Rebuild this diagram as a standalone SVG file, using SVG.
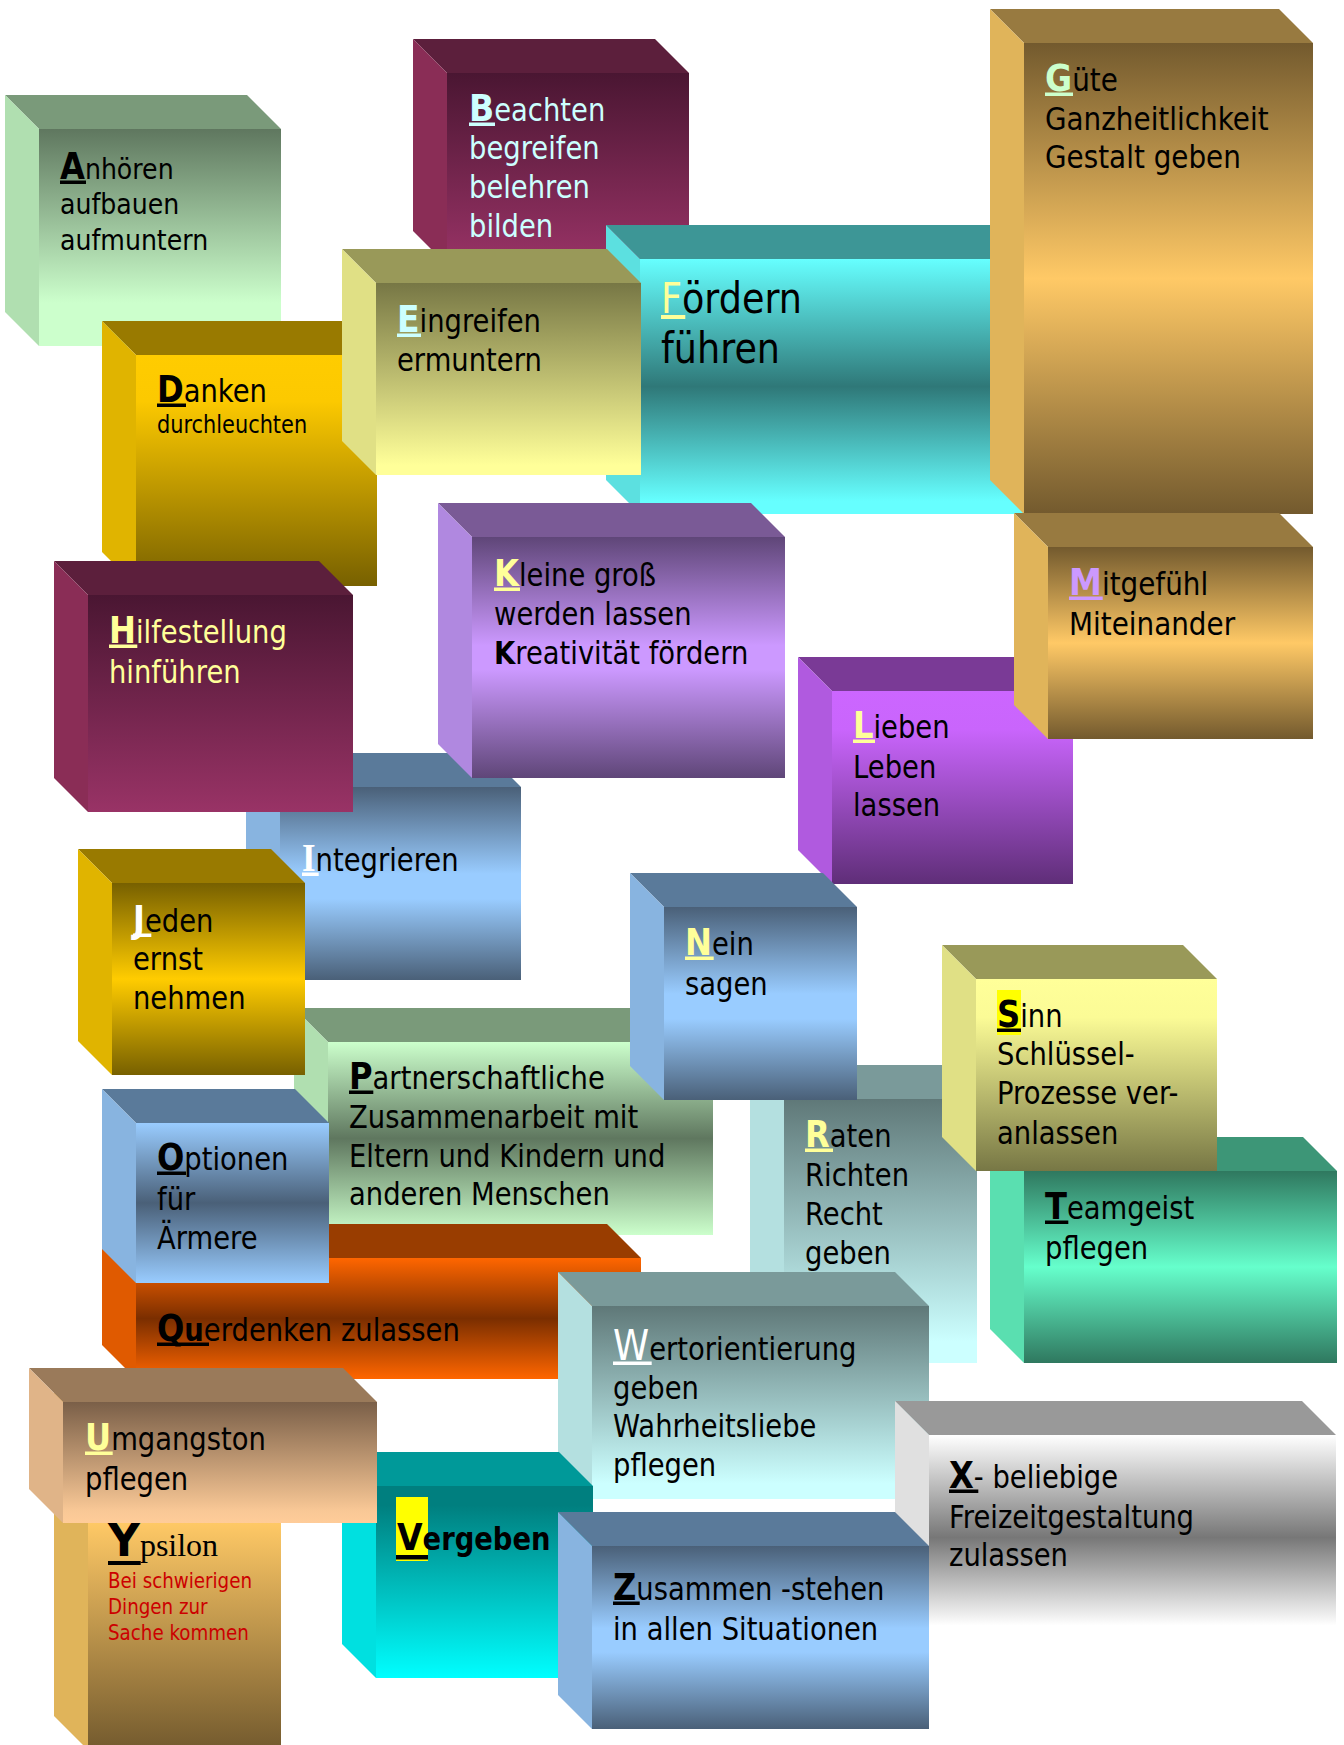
<svg xmlns="http://www.w3.org/2000/svg" width="1344" height="1745" viewBox="0 0 1344 1745">
<defs>
<linearGradient id="gA" x1="0" y1="0" x2="0" y2="1"><stop offset="0" stop-color="#5f775f"/><stop offset="0.8" stop-color="#ccffcc"/><stop offset="1" stop-color="#ccffcc"/></linearGradient>
<linearGradient id="gB" x1="0" y1="0" x2="0" y2="1"><stop offset="0" stop-color="#4a1632"/><stop offset="1" stop-color="#993366"/></linearGradient>
<linearGradient id="gGold" x1="0" y1="0" x2="0" y2="1"><stop offset="0" stop-color="#735a2e"/><stop offset="0.5" stop-color="#ffc966"/><stop offset="1" stop-color="#735a2e"/></linearGradient>
<linearGradient id="gY" x1="0" y1="0" x2="0" y2="1"><stop offset="0" stop-color="#735a2e"/><stop offset="0.31" stop-color="#ffc966"/><stop offset="1" stop-color="#735a2e"/></linearGradient>
<linearGradient id="gF" x1="0" y1="0" x2="0" y2="1"><stop offset="0" stop-color="#66ffff"/><stop offset="0.5" stop-color="#2f7878"/><stop offset="0.95" stop-color="#66ffff"/><stop offset="1" stop-color="#66ffff"/></linearGradient>
<linearGradient id="gE" x1="0" y1="0" x2="0" y2="1"><stop offset="0" stop-color="#777745"/><stop offset="0.95" stop-color="#ffff99"/><stop offset="1" stop-color="#ffff99"/></linearGradient>
<linearGradient id="gD" x1="0" y1="0" x2="0" y2="1"><stop offset="0" stop-color="#ffcc00"/><stop offset="0.2" stop-color="#fcc900"/><stop offset="1" stop-color="#776000"/></linearGradient>
<linearGradient id="gJ" x1="0" y1="0" x2="0" y2="1"><stop offset="0" stop-color="#776000"/><stop offset="0.5" stop-color="#ffcc00"/><stop offset="1" stop-color="#776000"/></linearGradient>
<linearGradient id="gK" x1="0" y1="0" x2="0" y2="1"><stop offset="0" stop-color="#5f4678"/><stop offset="0.45" stop-color="#cc99ff"/><stop offset="0.55" stop-color="#cc99ff"/><stop offset="1" stop-color="#5f4678"/></linearGradient>
<linearGradient id="gL" x1="0" y1="0" x2="0" y2="1"><stop offset="0" stop-color="#cc66ff"/><stop offset="0.2" stop-color="#c965fc"/><stop offset="1" stop-color="#5f2e78"/></linearGradient>
<linearGradient id="gBlue" x1="0" y1="0" x2="0" y2="1"><stop offset="0" stop-color="#4a6078"/><stop offset="0.45" stop-color="#99ccff"/><stop offset="0.58" stop-color="#99ccff"/><stop offset="1" stop-color="#4a6078"/></linearGradient>
<linearGradient id="gO" x1="0" y1="0" x2="0" y2="1"><stop offset="0" stop-color="#99ccff"/><stop offset="0.5" stop-color="#4a6078"/><stop offset="1" stop-color="#99ccff"/></linearGradient>
<linearGradient id="gP" x1="0" y1="0" x2="0" y2="1"><stop offset="0" stop-color="#ccffcc"/><stop offset="0.5" stop-color="#5f775f"/><stop offset="1" stop-color="#ccffcc"/></linearGradient>
<linearGradient id="gQ" x1="0" y1="0" x2="0" y2="1"><stop offset="0" stop-color="#ff6600"/><stop offset="0.5" stop-color="#7a2e00"/><stop offset="1" stop-color="#ff6600"/></linearGradient>
<linearGradient id="gR" x1="0" y1="0" x2="0" y2="1"><stop offset="0" stop-color="#5f7878"/><stop offset="0.92" stop-color="#ccffff"/><stop offset="1" stop-color="#ccffff"/></linearGradient>
<linearGradient id="gS" x1="0" y1="0" x2="0" y2="1"><stop offset="0" stop-color="#ffff99"/><stop offset="0.2" stop-color="#fbfb96"/><stop offset="1" stop-color="#777745"/></linearGradient>
<linearGradient id="gT" x1="0" y1="0" x2="0" y2="1"><stop offset="0" stop-color="#2f785f"/><stop offset="0.5" stop-color="#66ffcc"/><stop offset="1" stop-color="#2f785f"/></linearGradient>
<linearGradient id="gU" x1="0" y1="0" x2="0" y2="1"><stop offset="0" stop-color="#7a5f48"/><stop offset="0.9" stop-color="#f9c896"/><stop offset="1" stop-color="#ffcc99"/></linearGradient>
<linearGradient id="gV" x1="0" y1="0" x2="0" y2="1"><stop offset="0" stop-color="#007f7f"/><stop offset="0.1" stop-color="#007f7f"/><stop offset="1" stop-color="#00ffff"/></linearGradient>
<linearGradient id="gX" x1="0" y1="0" x2="0" y2="1"><stop offset="0" stop-color="#ffffff"/><stop offset="0.5" stop-color="#777777"/><stop offset="0.93" stop-color="#ffffff"/><stop offset="1" stop-color="#ffffff"/></linearGradient>
</defs>
<style>
text{font-family:"DejaVu Sans",Verdana,sans-serif;}
.b{font-weight:bold;}
.serif{font-family:"Liberation Serif","Times New Roman",serif;}
</style>
<rect width="1344" height="1745" fill="#ffffff"/>

<g id="n-anhoeren">
<polygon fill="#7a9a7a" points="5,95 247,95 281,129 39,129"/>
<polygon fill="#b0dfb0" points="5,95 39,129 39,346 5,312"/>
<rect x="39" y="129" width="242" height="217" fill="url(#gA)"/>
<rect x="60" y="180.5" width="26" height="3.5" fill="#000"/>
<g transform="translate(60 0) scale(0.87 1)" font-size="29" fill="#000">
<text y="179"><tspan class="b" font-size="37">A</tspan>nhören</text>
<text y="214">aufbauen</text>
<text y="250">aufmuntern</text>
</g>
</g>

<g id="n-beachten">
<polygon fill="#5c1f3c" points="413,39 655,39 689,73 447,73"/>
<polygon fill="#8a2d56" points="413,39 447,73 447,265 413,231"/>
<rect x="447" y="73" width="242" height="192" fill="url(#gB)"/>
<rect x="469" y="122.5" width="26" height="3.5" fill="#ccffff"/>
<g transform="translate(469 0) scale(0.87 1)" font-size="31.5" fill="#ccffff">
<text y="121"><tspan class="b" font-size="38">B</tspan>eachten</text>
<text y="159">begreifen</text>
<text y="198">belehren</text>
<text y="237">bilden</text>
</g>
</g>

<g id="n-foerdern">
<polygon fill="#3d9696" points="606,225 1066,225 1100,259 640,259"/>
<polygon fill="#5ce0e0" points="606,225 640,259 640,514 606,480"/>
<rect x="640" y="259" width="460" height="255" fill="url(#gF)"/>
<rect x="661" y="315" width="24.3" height="4" fill="#ffff99"/>
<g transform="translate(661 0) scale(0.87 1)" font-size="42" fill="#000">
<text y="313"><tspan fill="#ffff99">F</tspan>ördern</text>
<text y="363">führen</text>
</g>
</g>

<g id="n-guete">
<polygon fill="#987a40" points="990,9 1279,9 1313,43 1024,43"/>
<polygon fill="#e0b45a" points="990,9 1024,43 1024,514 990,480"/>
<rect x="1024" y="43" width="289" height="471" fill="url(#gGold)"/>
<rect x="1045" y="92.5" width="28" height="3.5" fill="#ccffcc"/>
<g transform="translate(1045 0) scale(0.87 1)" font-size="32" fill="#000">
<text y="91"><tspan class="b" font-size="38" fill="#ccffcc">G</tspan>üte</text>
<text y="130">Ganzheitlichkeit</text>
<text y="168">Gestalt geben</text>
</g>
</g>

<g id="n-danken">
<polygon fill="#997a00" points="102,321 343,321 377,355 136,355"/>
<polygon fill="#e0b400" points="102,321 136,355 136,586 102,552"/>
<rect x="136" y="355" width="241" height="231" fill="url(#gD)"/>
<rect x="157" y="403.5" width="29" height="3.5" fill="#000"/>
<g transform="translate(157 0) scale(0.87 1)" font-size="31.5" fill="#000">
<text y="402"><tspan class="b" font-size="37">D</tspan>anken</text>
<text y="433" font-size="24">durchleuchten</text>
</g>
</g>

<g id="n-eingreifen">
<polygon fill="#999959" points="342,249 607,249 641,283 376,283"/>
<polygon fill="#e0e085" points="342,249 376,283 376,475 342,441"/>
<rect x="376" y="283" width="265" height="192" fill="url(#gE)"/>
<rect x="397" y="333.5" width="24" height="3.5" fill="#ccffff"/>
<g transform="translate(397 0) scale(0.87 1)" font-size="31.5" fill="#000">
<text y="332"><tspan class="b" font-size="38" fill="#ccffff">E</tspan>ingreifen</text>
<text y="371">ermuntern</text>
</g>
</g>

<g id="n-integrieren">
<polygon fill="#5a7a9a" points="246,753 487,753 521,787 280,787"/>
<polygon fill="#88b4e0" points="246,753 280,787 280,980 246,946"/>
<rect x="280" y="787" width="241" height="193" fill="url(#gBlue)"/>
<rect x="302" y="872.5" width="16.7" height="3.5" fill="#ffffff"/>
<g transform="translate(302 0) scale(0.87 1)" font-size="31.5" fill="#000">
<text y="871"><tspan class="serif b" font-size="40" fill="#ffffff">I</tspan>ntegrieren</text>
</g>
</g>

<g id="n-kleine">
<polygon fill="#7a5a96" points="438,503 751,503 785,537 472,537"/>
<polygon fill="#b088e0" points="438,503 472,537 472,778 438,744"/>
<rect x="472" y="537" width="313" height="241" fill="url(#gK)"/>
<rect x="494" y="587.5" width="26" height="3.5" fill="#ffff99"/>
<g transform="translate(494 0) scale(0.87 1)" font-size="31.5" fill="#000">
<text y="586"><tspan class="b" font-size="37" fill="#ffff99">K</tspan>leine groß</text>
<text y="625">werden lassen</text>
<text y="664"><tspan class="b">K</tspan>reativität fördern</text>
</g>
</g>

<g id="n-hilfestellung">
<polygon fill="#5c1f3c" points="54,561 319,561 353,595 88,595"/>
<polygon fill="#8a2d56" points="54,561 88,595 88,812 54,778"/>
<rect x="88" y="595" width="265" height="217" fill="url(#gB)"/>
<rect x="109" y="644.5" width="28.3" height="3.5" fill="#ffff99"/>
<g transform="translate(109 0) scale(0.87 1)" font-size="31.5" fill="#ffff99">
<text y="643"><tspan class="b" font-size="37">H</tspan>ilfestellung</text>
<text y="683">hinführen</text>
</g>
</g>

<g id="n-lieben">
<polygon fill="#7a3a96" points="798,657 1039,657 1073,691 832,691"/>
<polygon fill="#b05adf" points="798,657 832,691 832,884 798,850"/>
<rect x="832" y="691" width="241" height="193" fill="url(#gL)"/>
<rect x="853" y="739.5" width="22" height="3.5" fill="#ffff99"/>
<g transform="translate(853 0) scale(0.87 1)" font-size="31.5" fill="#000">
<text y="738"><tspan class="b" font-size="37" fill="#ffff99">L</tspan>ieben</text>
<text y="778">Leben</text>
<text y="816">lassen</text>
</g>
</g>

<g id="n-mitgefuehl">
<polygon fill="#987a40" points="1014,513 1279,513 1313,547 1048,547"/>
<polygon fill="#e0b45a" points="1014,513 1048,547 1048,739 1014,705"/>
<rect x="1048" y="547" width="265" height="192" fill="url(#gGold)"/>
<rect x="1069" y="596.5" width="33.7" height="3.5" fill="#cc99ff"/>
<g transform="translate(1069 0) scale(0.87 1)" font-size="32" fill="#000">
<text y="595"><tspan class="b" font-size="38" fill="#cc99ff">M</tspan>itgefühl</text>
<text y="635">Miteinander</text>
</g>
</g>

<g id="n-partnerschaftliche">
<polygon fill="#7a9a7a" points="294,1008 679,1008 713,1042 328,1042"/>
<polygon fill="#b0dfb0" points="294,1008 328,1042 328,1235 294,1201"/>
<rect x="328" y="1042" width="385" height="193" fill="url(#gP)"/>
<rect x="349" y="1090.5" width="24.3" height="3.5" fill="#000"/>
<g transform="translate(349 0) scale(0.87 1)" font-size="31.5" fill="#000">
<text y="1089"><tspan class="b" font-size="37">P</tspan>artnerschaftliche</text>
<text y="1128">Zusammenarbeit mit</text>
<text y="1167">Eltern und Kindern und</text>
<text y="1205">anderen Menschen</text>
</g>
</g>

<g id="n-jeden">
<polygon fill="#997a00" points="78,849 271,849 305,883 112,883"/>
<polygon fill="#e0b400" points="78,849 112,883 112,1075 78,1041"/>
<rect x="112" y="883" width="193" height="192" fill="url(#gJ)"/>
<rect x="133" y="933.5" width="18.3" height="3.5" fill="#ffffff"/>
<g transform="translate(133 0) scale(0.87 1)" font-size="31.5" fill="#000">
<text y="932"><tspan class="b" font-size="37" fill="#ffffff">J</tspan>eden</text>
<text y="970">ernst</text>
<text y="1009">nehmen</text>
</g>
</g>

<g id="n-raten">
<polygon fill="#7a9a9a" points="750,1065 943,1065 977,1099 784,1099"/>
<polygon fill="#b4e0e0" points="750,1065 784,1099 784,1363 750,1329"/>
<rect x="784" y="1099" width="193" height="264" fill="url(#gR)"/>
<rect x="805" y="1148.5" width="28" height="3.5" fill="#ffff99"/>
<g transform="translate(805 0) scale(0.87 1)" font-size="31.5" fill="#000">
<text y="1147"><tspan class="b" font-size="37" fill="#ffff99">R</tspan>aten</text>
<text y="1186">Richten</text>
<text y="1225">Recht</text>
<text y="1264">geben</text>
</g>
</g>

<g id="n-nein">
<polygon fill="#5a7a9a" points="630,873 823,873 857,907 664,907"/>
<polygon fill="#88b4e0" points="630,873 664,907 664,1100 630,1066"/>
<rect x="664" y="907" width="193" height="193" fill="url(#gBlue)"/>
<rect x="685" y="956.5" width="28.7" height="3.5" fill="#ffff99"/>
<g transform="translate(685 0) scale(0.87 1)" font-size="31.5" fill="#000">
<text y="955"><tspan class="b" font-size="37" fill="#ffff99">N</tspan>ein</text>
<text y="995">sagen</text>
</g>
</g>

<g id="n-teamgeist">
<polygon fill="#3d9677" points="990,1137 1303,1137 1337,1171 1024,1171"/>
<polygon fill="#5adfb0" points="990,1137 1024,1171 1024,1363 990,1329"/>
<rect x="1024" y="1171" width="313" height="192" fill="url(#gT)"/>
<rect x="1045" y="1220.5" width="23.3" height="3.5" fill="#000"/>
<g transform="translate(1045 0) scale(0.87 1)" font-size="31.5" fill="#000">
<text y="1219"><tspan class="b" font-size="37">T</tspan>eamgeist</text>
<text y="1259">pflegen</text>
</g>
</g>

<g id="n-sinn">
<polygon fill="#999959" points="942,945 1183,945 1217,979 976,979"/>
<polygon fill="#e0e085" points="942,945 976,979 976,1171 942,1137"/>
<rect x="976" y="979" width="241" height="192" fill="url(#gS)"/>
<rect x="997" y="990" width="24" height="45" fill="#ffff00"/>
<rect x="997" y="1028.5" width="24" height="3.5" fill="#000"/>
<g transform="translate(997 0) scale(0.87 1)" font-size="31.5" fill="#000">
<text y="1027"><tspan class="b" font-size="37">S</tspan>inn</text>
<text y="1065">Schlüssel-</text>
<text y="1104">Prozesse ver-</text>
<text y="1144">anlassen</text>
</g>
</g>

<g id="n-querdenken">
<polygon fill="#993d00" points="102,1224 607,1224 641,1258 136,1258"/>
<polygon fill="#e05a00" points="102,1224 136,1258 136,1379 102,1345"/>
<rect x="136" y="1258" width="505" height="121" fill="url(#gQ)"/>
<rect x="157" y="1342.5" width="52" height="3.5" fill="#000"/>
<g transform="translate(157 0) scale(0.87 1)" font-size="31.5" fill="#000">
<text y="1341"><tspan class="b" font-size="37">Q</tspan><tspan class="b">u</tspan>erdenken zulassen</text>
</g>
</g>

<g id="n-optionen">
<polygon fill="#5a7a9a" points="102,1089 295,1089 329,1123 136,1123"/>
<polygon fill="#88b4e0" points="102,1089 136,1123 136,1283 102,1249"/>
<rect x="136" y="1123" width="193" height="160" fill="url(#gO)"/>
<rect x="157" y="1171.5" width="29" height="3.5" fill="#000"/>
<g transform="translate(157 0) scale(0.87 1)" font-size="31.5" fill="#000">
<text y="1170"><tspan class="b" font-size="37">O</tspan>ptionen</text>
<text y="1210">für</text>
<text y="1249">Ärmere</text>
</g>
</g>

<g id="n-wertorientierung">
<polygon fill="#7a9a9a" points="558,1272 895,1272 929,1306 592,1306"/>
<polygon fill="#b4e0e0" points="558,1272 592,1306 592,1499 558,1465"/>
<rect x="592" y="1306" width="337" height="193" fill="url(#gR)"/>
<rect x="613" y="1361.5" width="38.7" height="3.5" fill="#ffffff"/>
<g transform="translate(613 0) scale(0.87 1)" font-size="31.5" fill="#000">
<text y="1360"><tspan font-size="42" fill="#ffffff">W</tspan>ertorientierung</text>
<text y="1399">geben</text>
<text y="1437">Wahrheitsliebe</text>
<text y="1476">pflegen</text>
</g>
</g>

<g id="n-x">
<polygon fill="#999999" points="895,1401 1302,1401 1336,1435 929,1435"/>
<polygon fill="#e0e0e0" points="895,1401 929,1435 929,1640 895,1606"/>
<rect x="929" y="1435" width="407" height="205" fill="url(#gX)"/>
<rect x="949" y="1489.5" width="29.3" height="3.5" fill="#000"/>
<g transform="translate(949 0) scale(0.87 1)" font-size="31.5" fill="#000">
<text y="1488"><tspan class="b" font-size="37">X</tspan>- beliebige</text>
<text y="1528">Freizeitgestaltung</text>
<text y="1566">zulassen</text>
</g>
</g>

<g id="n-vergeben">
<polygon fill="#009999" points="342,1452 559,1452 593,1486 376,1486"/>
<polygon fill="#00e0e0" points="342,1452 376,1486 376,1678 342,1644"/>
<rect x="376" y="1486" width="217" height="192" fill="url(#gV)"/>
<rect x="396" y="1497" width="32" height="64" fill="#ffff00"/>
<rect x="396" y="1555" width="32" height="4.5" fill="#000"/>
<g transform="translate(397 0) scale(0.87 1)" font-size="31.5" fill="#000">
<text y="1550" class="b"><tspan font-size="38">V</tspan>ergeben</text>
</g>
</g>

<g id="n-ypsilon">
<polygon fill="#987a40" points="54,1386 247,1386 281,1420 88,1420"/>
<polygon fill="#e0b45a" points="54,1386 88,1420 88,1750 54,1716"/>
<rect x="88" y="1420" width="193" height="330" fill="url(#gY)"/>
<rect x="108" y="1561" width="32.7" height="4" fill="#000"/>
<text x="108" y="1556" fill="#000"><tspan class="b" font-size="44">Y</tspan><tspan class="serif" font-size="32">psilon</tspan></text>
<g transform="translate(108 0) scale(0.87 1)" font-size="21" fill="#cc0000">
<text y="1588">Bei schwierigen</text>
<text y="1614">Dingen zur</text>
<text y="1640">Sache kommen</text>
</g>
</g>

<g id="n-umgangston">
<polygon fill="#9a7a5a" points="29,1368 343,1368 377,1402 63,1402"/>
<polygon fill="#e0b488" points="29,1368 63,1402 63,1523 29,1489"/>
<rect x="63" y="1402" width="314" height="121" fill="url(#gU)"/>
<rect x="85" y="1451.5" width="27.7" height="3.5" fill="#ffff99"/>
<g transform="translate(85 0) scale(0.87 1)" font-size="31.5" fill="#000">
<text y="1450"><tspan class="b" font-size="37" fill="#ffff99">U</tspan>mgangston</text>
<text y="1490">pflegen</text>
</g>
</g>

<g id="n-zusammen">
<polygon fill="#5a7a9a" points="558,1512 895,1512 929,1546 592,1546"/>
<polygon fill="#88b4e0" points="558,1512 592,1546 592,1729 558,1695"/>
<rect x="592" y="1546" width="337" height="183" fill="url(#gBlue)"/>
<rect x="613" y="1601.5" width="26.7" height="3.5" fill="#000"/>
<g transform="translate(613 0) scale(0.87 1)" font-size="31.5" fill="#000">
<text y="1600"><tspan class="b" font-size="37">Z</tspan>usammen -stehen</text>
<text y="1640">in allen Situationen</text>
</g>
</g>

<g id="connectors"></g>
</svg>
